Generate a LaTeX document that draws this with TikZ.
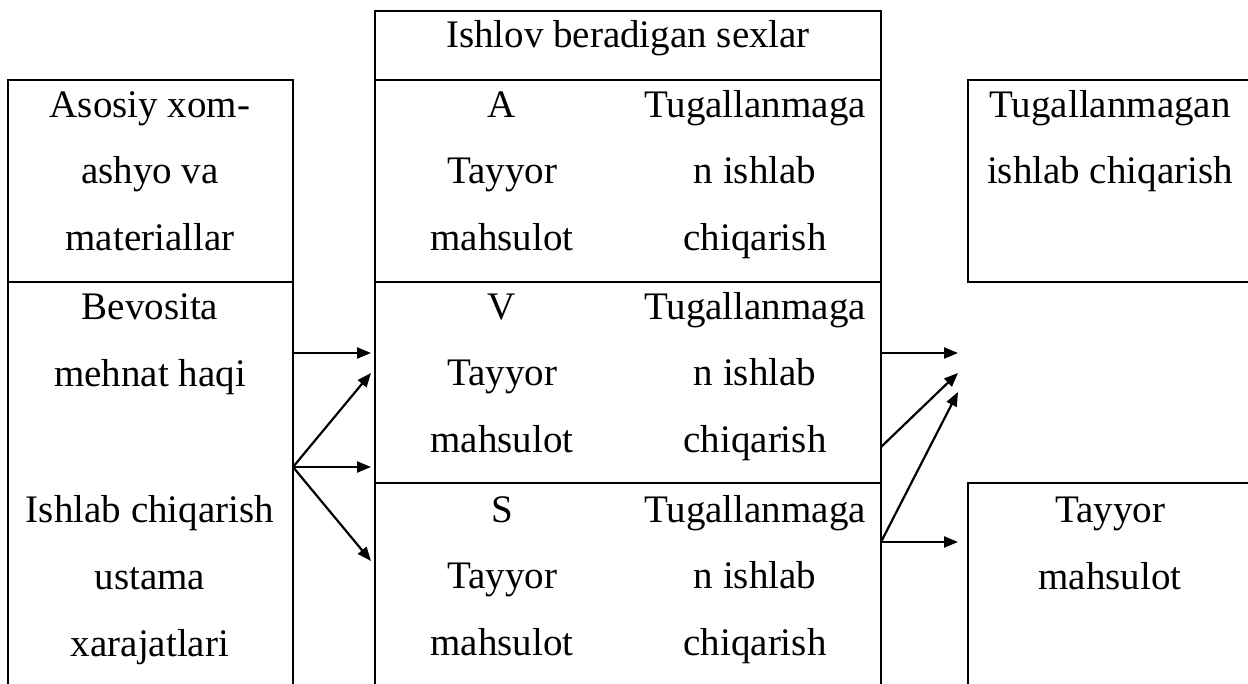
\documentclass[tikz,border=0pt]{standalone}
\usepackage{fontspec}
\setmainfont{Liberation Serif}
\usetikzlibrary{arrows.meta}
\begin{document}
\begin{tikzpicture}[x=1pt,y=-1pt,
  frame/.style={line width=2pt,line cap=rect},
  lbl/.style={anchor=base,inner sep=0pt,font=\fontsize{39}{39}\selectfont},
  arr/.style={line width=2.2pt,-{Triangle[length=14pt,width=11pt]}}]
\useasboundingbox (0,0) rectangle (1248,684);
% left column
\draw[frame] (8,684) -- (8,80) -- (293,80) -- (293,684);
\draw[frame] (8,282) -- (293,282);
% middle column
\draw[frame] (375,684) -- (375,11) -- (881,11) -- (881,684);
\draw[frame] (375,80) -- (881,80);
\draw[frame] (375,282) -- (881,282);
\draw[frame] (375,483) -- (881,483);
% right boxes
\draw[frame] (1250,80) -- (968,80) -- (968,282) -- (1250,282);
\draw[frame] (1250,483) -- (968,483) -- (968,686);
% left texts
\node[lbl] (l1) at (150,118) {Asosiy xom-};
\node[lbl] (l2) at (150,184) {ashyo va};
\node[lbl] (l3) at (150,251) {materiallar};
\node[lbl] (l4) at (150,320) {Bevosita};
\node[lbl] (l5) at (150,387) {mehnat haqi};
\node[lbl] (l6) at (150,522) {Ishlab chiqarish};
\node[lbl] (l7) at (150,589) {ustama};
\node[lbl] (l8) at (150,656) {xarajatlari};
% middle texts
\node[lbl] (title) at (628,48) {Ishlov beradigan sexlar};
\foreach \y/\n in {118/A,320/V,522/S}{
  \node[lbl] (c\n1) at (502,\y) {\n};
  \node[lbl] (c\n2) at (502,\y+66) {Tayyor};
  \node[lbl] (c\n3) at (502,\y+133) {mahsulot};
  \node[lbl] (d\n1) at (755,\y) {Tugallanmaga};
  \node[lbl] (d\n2) at (755,\y+66) {n ishlab};
  \node[lbl] (d\n3) at (755,\y+133) {chiqarish};
}
% right texts
\node[lbl] (r1) at (1110,118) {Tugallanmagan};
\node[lbl] (r2) at (1110,184) {ishlab chiqarish};
\node[lbl] (r3) at (1110,522) {Tayyor};
\node[lbl] (r4) at (1110,589) {mahsulot};
% arrow endpoints
\coordinate (la) at (293,353);
\coordinate (lb) at (293,467);
\coordinate (ma) at (371,353);
\coordinate (mb) at (371,373);
\coordinate (mc) at (371,467);
\coordinate (md) at (371,561);
\coordinate (ra) at (881,353);
\coordinate (rb) at (881,447);
\coordinate (rc) at (881,542);
\coordinate (ta) at (958,353);
\coordinate (tb) at (958,373);
\coordinate (tc) at (958,392);
\coordinate (td) at (958,542);
\draw[arr] (la) -- (ma);
\draw[arr] (lb) -- (mb);
\draw[arr] (lb) -- (mc);
\draw[arr] (lb) -- (md);
\draw[arr] (ra) -- (ta);
\draw[arr] (rb) -- (tb);
\draw[arr] (rc) -- (tc);
\draw[arr] (rc) -- (td);
\end{tikzpicture}
\end{document}
